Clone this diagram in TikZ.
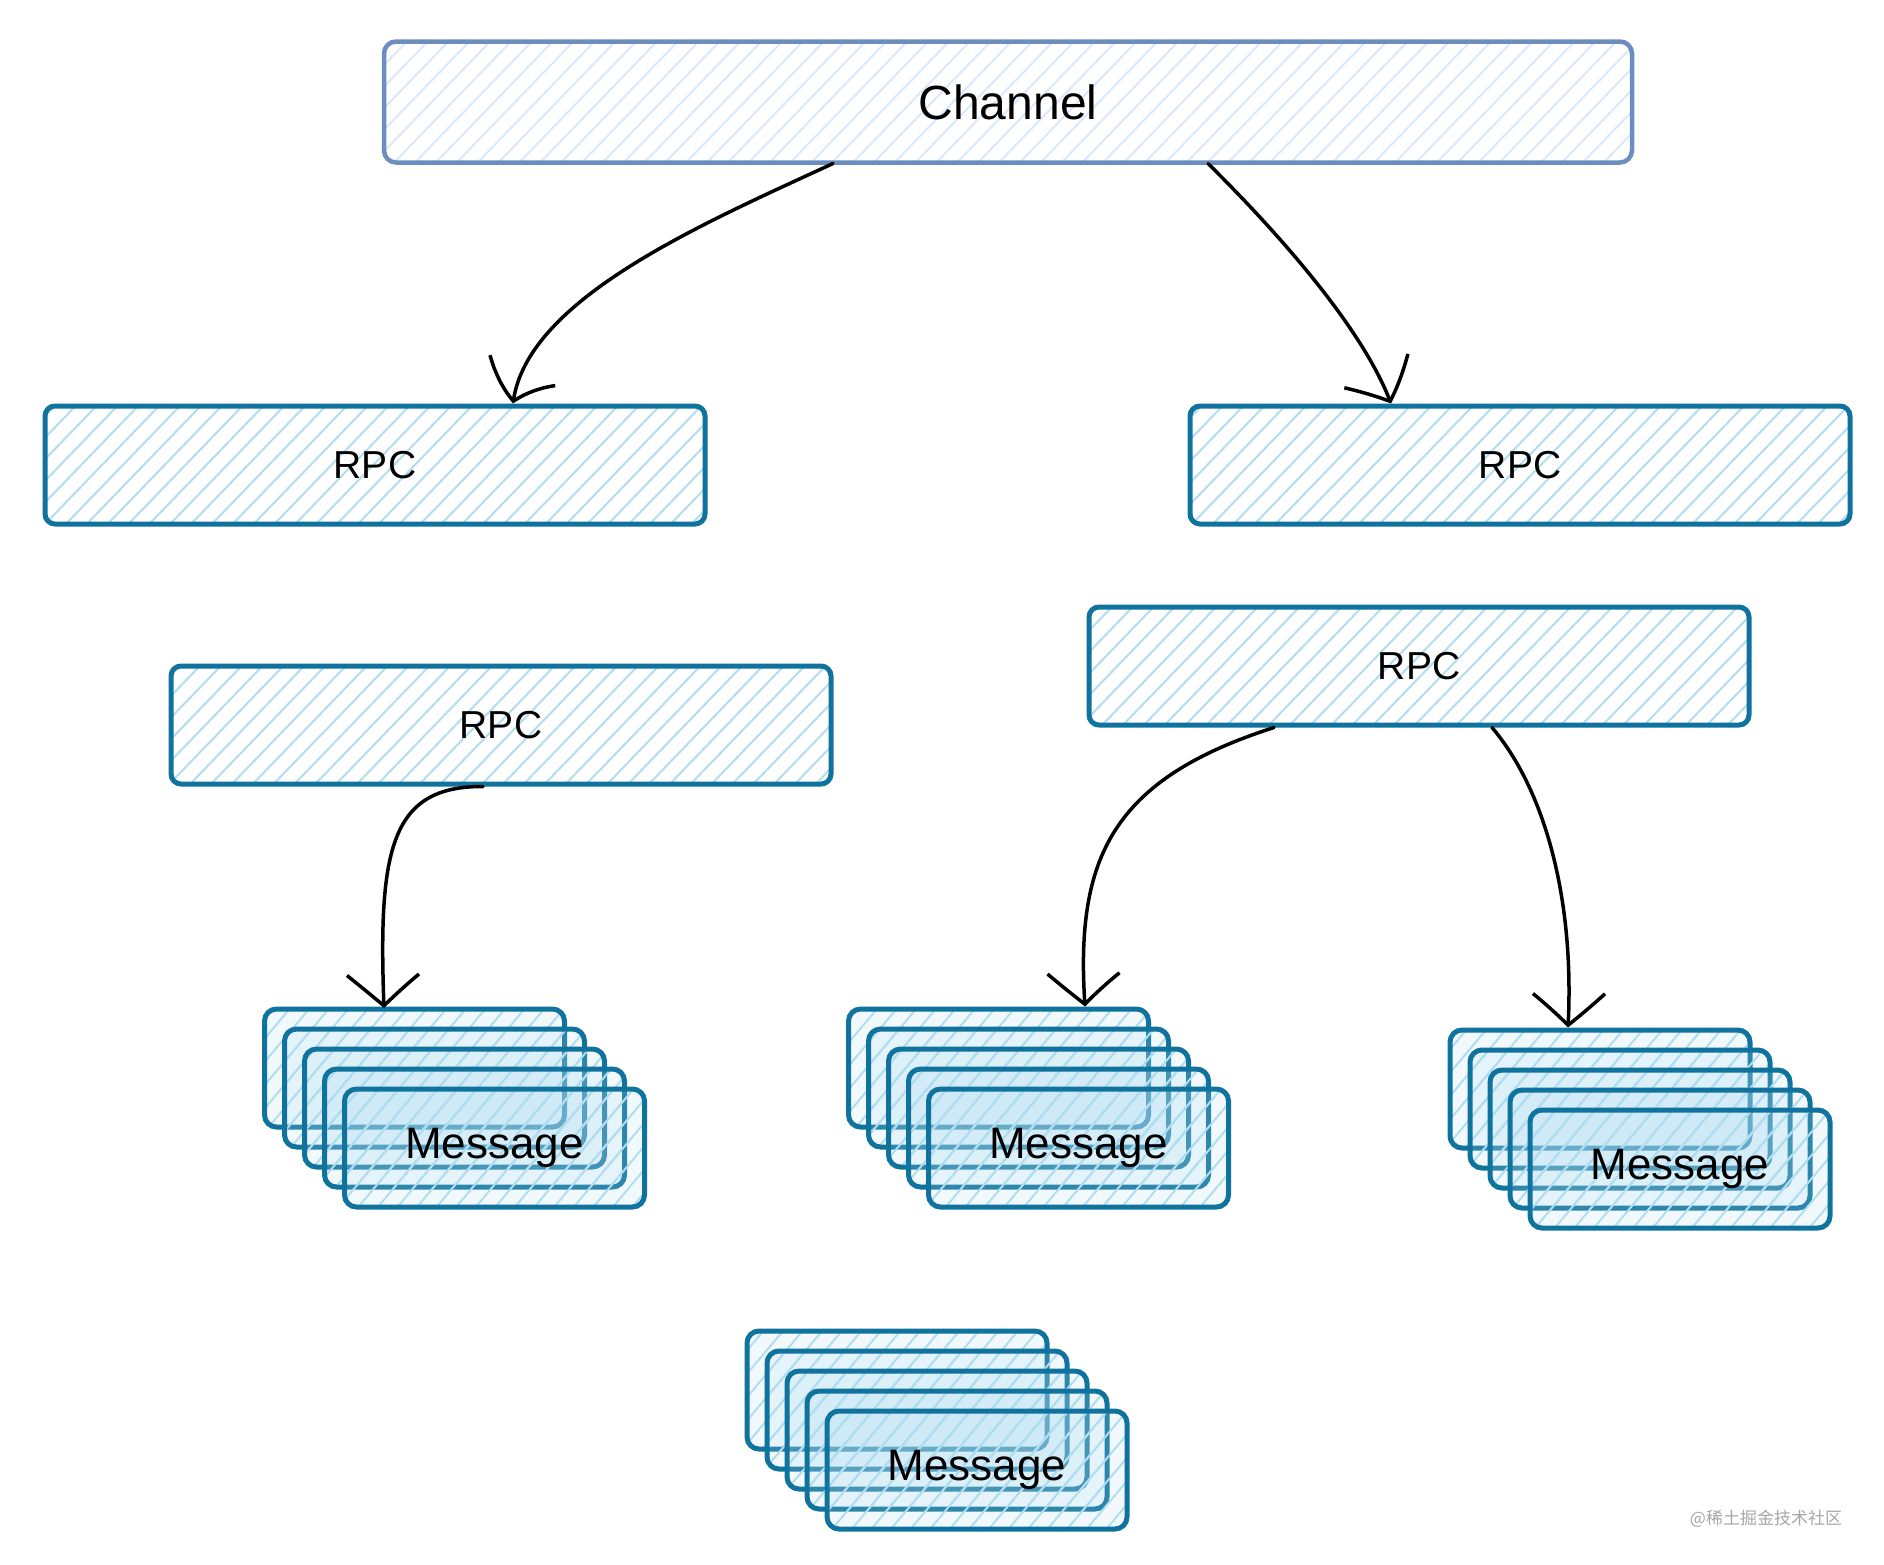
\documentclass[tikz,border=0pt]{standalone}
\usepackage{fontspec}
\setmainfont{Liberation Sans}
\newfontfamily\cjk{Noto Sans CJK SC}
\usetikzlibrary{arrows.meta,bending,patterns.meta}
\definecolor{chanline}{HTML}{6C8EBF}
\definecolor{chanfill}{HTML}{DAE8FC}
\definecolor{rpcline}{HTML}{10739E}
\definecolor{rpcfill}{HTML}{B1DDF0}
\tikzset{chan node/.style={rectangle,rounded corners=12pt,draw=chanline,line width=4.5pt,
    pattern={Lines[angle=46,distance=15pt,line width=2pt]},pattern color=chanfill,
    minimum width=1248pt,minimum height=121pt,inner sep=0pt,font=\fontsize{48}{54}\selectfont},
  rpc node/.style={rectangle,rounded corners=10pt,draw=rpcline,line width=5pt,
    pattern={Lines[angle=46,distance=15pt,line width=2pt]},pattern color=rpcfill,
    minimum width=660pt,minimum height=118pt,inner sep=0pt,font=\fontsize{39}{44}\selectfont},
  msg node/.style={rectangle,rounded corners=12pt,draw=rpcline,line width=5pt,
    preaction={fill=rpcfill,fill opacity=0.18},
    pattern={Lines[angle=50,distance=15pt,line width=2pt]},pattern color=rpcfill,
    minimum width=300pt,minimum height=118pt,inner sep=0pt,font=\fontsize{44}{50}\selectfont},
  flow/.style={line width=3.5pt,line cap=round,-{Straight Barb[bend,length=32pt,width=72pt]}},
}
\begin{document}
\begin{tikzpicture}[x=1pt,y=-1pt]
	\useasboundingbox (0,0) rectangle (1884,1564);
	\node[chan node] (chan) at (1008,102) {Channel};
	\node[rpc node] (rpc1) at (375,465) {RPC};
	\node[rpc node] (rpc2) at (1520,465) {RPC};
	\node[rpc node] (rpc3) at (501,725) {RPC};
	\node[rpc node] (rpc4) at (1419,666) {RPC};
	
	% message stacks
	\node[msg node] (m1a) at (414.5,1068) {};
	\node[msg node] (m1b) at (434.5,1088) {};
	\node[msg node] (m1c) at (454.5,1108) {};
	\node[msg node] (m1d) at (474.5,1128) {};
	\node[msg node] (m1e) at (494.5,1148) {Message};
	
	\node[msg node] (m2a) at (998.5,1068) {};
	\node[msg node] (m2b) at (1018.5,1088) {};
	\node[msg node] (m2c) at (1038.5,1108) {};
	\node[msg node] (m2d) at (1058.5,1128) {};
	\node[msg node] (m2e) at (1078.5,1148) {Message};
	
	\node[msg node] (m3a) at (1600,1089) {};
	\node[msg node] (m3b) at (1620,1109) {};
	\node[msg node] (m3c) at (1640,1129) {};
	\node[msg node] (m3d) at (1660,1149) {};
	\node[msg node] (m3e) at (1680,1169) {Message};
	
	\node[msg node] (m4a) at (897,1390) {};
	\node[msg node] (m4b) at (917,1410) {};
	\node[msg node] (m4c) at (937,1430) {};
	\node[msg node] (m4d) at (957,1450) {};
	\node[msg node] (m4e) at (977,1470) {Message};
	
	\node[text=black!35] (mark) at (1766,1519) {\cjk\fontsize{17}{20}\selectfont @稀土掘金技术社区};
	
	\draw[flow] ([xshift=-175pt]chan.south) .. controls (700,225) and (525,300) .. ([xshift=138pt]rpc1.north);
	\draw[flow] ([xshift=200pt]chan.south) .. controls (1260,215) and (1360,320) .. ([xshift=-129pt]rpc2.north);
	\draw[flow] ([xshift=-18pt]rpc3.south) .. controls (390,786) and (378,850) .. ([xshift=-30.5pt]m1a.north);
	\draw[flow] ([xshift=-145pt]rpc4.south) .. controls (1110,780) and (1075,860) .. ([xshift=86.5pt]m2a.north);
	\draw[flow] ([xshift=73pt]rpc4.south) .. controls (1545,790) and (1575,900) .. ([xshift=-32pt]m3a.north);
\end{tikzpicture}
\end{document}
